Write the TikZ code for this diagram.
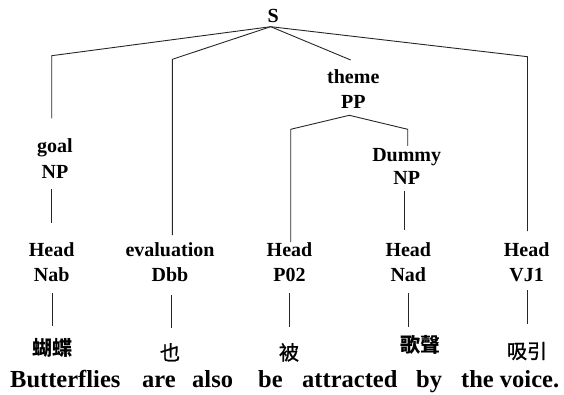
\documentclass[tikz,border=0pt]{standalone}
\usepackage{fontspec}
\setmainfont{Liberation Serif}
\newfontfamily\cjk{Noto Sans CJK TC}[UprightFeatures={FakeBold=1.2}]
\newfontfamily\cjkbold{Noto Sans CJK TC}
\begin{document}
\begin{tikzpicture}[x=1pt,y=-1pt,
  lab/.style={font=\fontsize{20}{24}\selectfont\bfseries, inner sep=0, anchor=base},
  word/.style={font=\fontsize{24.5}{28}\selectfont\bfseries, inner sep=0, anchor=base west},
  han/.style={font=\fontsize{20}{24}\selectfont\cjk, inner sep=0, anchor=base},
  hanb/.style={font=\fontsize{20}{24}\selectfont\cjkbold\bfseries, inner sep=0, anchor=base},
  edge/.style={line width=0.9pt, draw=black!85}]
\useasboundingbox (0,0) rectangle (564,395);
% labels
\node[lab] (S) at (273.3,22.7) {S};
\node[lab] (goal) at (55,153) {goal};
\node[lab] (goalNP) at (55,178.3) {NP};
\node[lab] (theme) at (353.3,83.3) {theme};
\node[lab] (themePP) at (353.3,108.3) {PP};
\node[lab] (dummy) at (406.7,161.7) {Dummy};
\node[lab] (dummyNP) at (406.7,185) {NP};
\node[lab] (h1) at (51.7,256) {Head};
\node[lab] (t1) at (51.7,281.7) {Nab};
\node[lab] (h2) at (170,256) {evaluation};
\node[lab] (t2) at (170,281.7) {Dbb};
\node[lab] (h3) at (289.5,256) {Head};
\node[lab] (t3) at (289.5,281.7) {P02};
\node[lab] (h4) at (408.3,256) {Head};
\node[lab] (t4) at (408.3,281.7) {Nad};
\node[lab] (h5) at (526.7,256) {Head};
\node[lab] (t5) at (526.7,281.7) {VJ1};
% chinese
\node[hanb] (c1) at (52,355.5) {蝴蝶};
\node[han] (c2) at (170,360) {也};
\node[han] (c3) at (289,360) {被};
\node[hanb] (c4) at (420,352.5) {歌聲};
\node[han] (c5) at (527,358.5) {吸引};
% english
\node[word] (e1) at (10,387.3) {Butterflies};
\node[word] (e2) at (142,387.3) {are};
\node[word] (e3) at (192,387.3) {also};
\node[word] (e4) at (258,387.3) {be};
\node[word] (e5) at (302,387.3) {attracted};
\node[word] (e6) at (416,387.3) {by};
\node[word] (e7) at (461,387.3) {the voice.};
% tree coordinates
\coordinate (a) at (270.7,26.7);
\coordinate (k1) at (51.7,55.7);   \coordinate (k1b) at (51.7,118.3);
\coordinate (k2) at (172.3,59.3);  \coordinate (k2b) at (172.3,235);
\coordinate (k3) at (350.7,60);
\coordinate (k5) at (527.5,56.7);  \coordinate (k5b) at (527.5,231);
\coordinate (p) at (349.3,115.3);
\coordinate (p1) at (290.7,129.3); \coordinate (p1b) at (290.7,242);
\coordinate (p2) at (407.7,129.3); \coordinate (p2b) at (407.7,146);
\coordinate (n1a) at (51.7,189.3); \coordinate (n1b) at (51.7,222.7);
\coordinate (n2a) at (404.3,190.7); \coordinate (n2b) at (404.3,230);
% lower lines
\foreach \i/\x/\ya/\yb in {1/52/293/326, 2/171/295/327.5, 3/289.6/293/326.5, 4/408.3/293.3/326.5, 5/527.3/290/323.5}{
  \coordinate (l\i a) at (\x,\ya); \coordinate (l\i b) at (\x,\yb);
  \draw[edge] (l\i a) -- (l\i b);
}
\draw[edge] (k1b) -- (k1) -- (a) -- (k5) -- (k5b);
\draw[edge] (a) -- (k2) -- (k2b);
\draw[edge] (a) -- (k3);
\draw[edge] (p1b) -- (p1) -- (p) -- (p2) -- (p2b);
\draw[edge] (n1a) -- (n1b);
\draw[edge] (n2a) -- (n2b);
\end{tikzpicture}
\end{document}
